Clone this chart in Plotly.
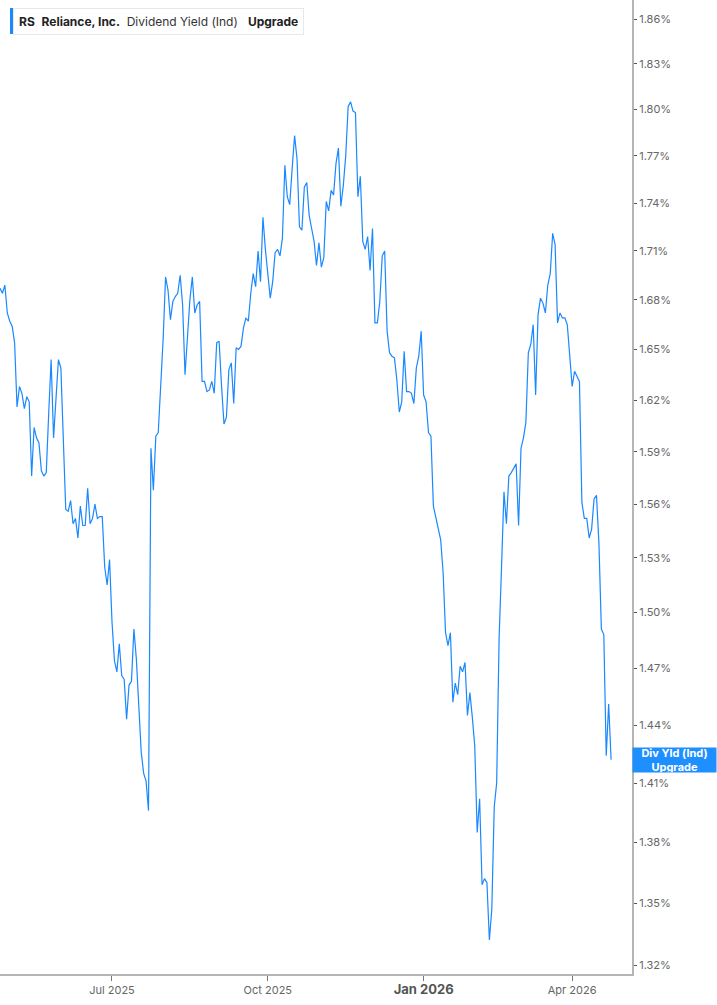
import numpy as np
import pandas as pd
import plotly.graph_objects as go

# NYSE holidays in the window
holidays = ["2025-05-26", "2025-06-19", "2025-07-04", "2025-09-01", "2025-11-27",
            "2025-12-25", "2026-01-01", "2026-01-19", "2026-02-16", "2026-04-03"]
start_date = "2025-04-24"
end_date = "2026-04-24"

# dividend yield (%) per trading day
div_yield = [
    1.687, 1.684, 1.689, 1.672, 1.667, 1.664, 1.654, 1.616, 1.628, 1.624,
    1.615, 1.622, 1.619, 1.576, 1.604, 1.598, 1.595, 1.579, 1.576, 1.578,
    1.612, 1.644, 1.598, 1.621, 1.644, 1.639, 1.591, 1.557, 1.556, 1.562,
    1.549, 1.552, 1.541, 1.559, 1.548, 1.548, 1.569, 1.549, 1.552, 1.560,
    1.552, 1.553, 1.553, 1.525, 1.515, 1.529, 1.495, 1.474, 1.468, 1.483,
    1.466, 1.464, 1.443, 1.461, 1.463, 1.491, 1.475, 1.453, 1.426, 1.415,
    1.411, 1.396, 1.592, 1.568, 1.599, 1.601, 1.628, 1.656, 1.694, 1.686,
    1.668, 1.679, 1.682, 1.684, 1.695, 1.677, 1.635, 1.656, 1.680, 1.694,
    1.672, 1.677, 1.679, 1.631, 1.631, 1.625, 1.626, 1.631, 1.624, 1.654,
    1.655, 1.628, 1.606, 1.610, 1.638, 1.642, 1.618, 1.651, 1.650, 1.652,
    1.663, 1.669, 1.667, 1.684, 1.696, 1.688, 1.710, 1.691, 1.731, 1.711,
    1.694, 1.681, 1.691, 1.709, 1.711, 1.707, 1.718, 1.764, 1.744, 1.739,
    1.762, 1.783, 1.768, 1.725, 1.723, 1.750, 1.753, 1.732, 1.724, 1.716,
    1.701, 1.715, 1.700, 1.706, 1.741, 1.735, 1.748, 1.745, 1.765, 1.775,
    1.738, 1.751, 1.770, 1.802, 1.805, 1.799, 1.798, 1.744, 1.757, 1.716,
    1.711, 1.719, 1.698, 1.724, 1.666, 1.666, 1.679, 1.707, 1.710, 1.661,
    1.648, 1.646, 1.645, 1.632, 1.613, 1.619, 1.649, 1.625, 1.625, 1.624,
    1.618, 1.639, 1.646, 1.661, 1.623, 1.619, 1.601, 1.599, 1.559, 1.553,
    1.547, 1.540, 1.522, 1.489, 1.482, 1.489, 1.452, 1.462, 1.456, 1.471,
    1.468, 1.473, 1.445, 1.457, 1.444, 1.429, 1.385, 1.402, 1.359, 1.362,
    1.360, 1.332, 1.347, 1.398, 1.410, 1.486, 1.525, 1.567, 1.549, 1.576,
    1.578, 1.581, 1.583, 1.548, 1.592, 1.598, 1.607, 1.648, 1.653, 1.665,
    1.623, 1.671, 1.681, 1.678, 1.672, 1.689, 1.696, 1.721, 1.714, 1.666,
    1.672, 1.669, 1.669, 1.665, 1.648, 1.628, 1.637, 1.634, 1.631, 1.561,
    1.552, 1.552, 1.541, 1.546, 1.563, 1.565, 1.538, 1.491, 1.488, 1.424,
    1.451, 1.422,
]

y_ticks = [1.32, 1.35, 1.38, 1.41, 1.44, 1.47, 1.50, 1.53, 1.56, 1.59,
           1.62, 1.65, 1.68, 1.71, 1.74, 1.77, 1.80, 1.83, 1.86]
x_ticks = ["2025-07-01", "2025-10-01", "2026-01-02", "2026-04-01"]
x_labels = ["Jul 2025", "Oct 2025",
            "<b><span style='font-size:13px;color:#555'>Jan 2026</span></b>", "Apr 2026"]

dates = pd.bdate_range(start_date, end_date, freq="C", holidays=holidays)
df = pd.DataFrame({"date": dates, "yield": div_yield})

blue = "#1a88ff"

fig = go.Figure()
fig.add_trace(go.Scatter(x=df["date"], y=df["yield"], mode="lines",
                         line=dict(color=blue, width=1.2), hoverinfo="skip"))

fig.update_layout(
    width=717, height=1005,
    margin=dict(l=0, r=85, t=0, b=31),
    paper_bgcolor="white", plot_bgcolor="white",
    showlegend=False,
    font=dict(family="Inter, Roboto, sans-serif", size=11, color="#666"),
)
fig.update_xaxes(
    range=["2025-04-24", "2026-05-06 14:00"],
    rangebreaks=[dict(bounds=["sat", "mon"]), dict(values=holidays)],
    tickvals=x_ticks, ticktext=x_labels,
    showgrid=False, zeroline=False,
    showline=True, linecolor="#b5b5b5", linewidth=2,
    ticks="outside", ticklen=5, tickcolor="#777", tickwidth=1,
    tickfont=dict(size=11, color="#666"),
)
fig.update_yaxes(
    type="log", side="right",
    range=[np.log10(1.3157), np.log10(1.8729)],
    tickvals=y_ticks, ticktext=[f"{v:.2f}%" for v in y_ticks],
    showgrid=False, zeroline=False,
    showline=True, linecolor="#b5b5b5", linewidth=2,
    ticks="outside", ticklen=3, tickcolor="#555", tickwidth=1,
    tickfont=dict(size=11, color="#666"),
)

# header box
fig.add_annotation(
    xref="paper", yref="paper", x=13 / 632, y=1 - 8 / 974,
    xanchor="left", yanchor="top", showarrow=False,
    text="<b>RS</b>  <b>Reliance, Inc.</b>  <span style='color:#333'>Dividend Yield (Ind)</span>"
         "   <b>Upgrade</b>",
    font=dict(size=12, color="#222"),
    bgcolor="white", bordercolor="#e8e8e8", borderwidth=1, borderpad=5,
)
fig.add_shape(type="rect", xref="paper", yref="paper",
              x0=10 / 632, x1=13 / 632, y0=1 - 34 / 974, y1=1 - 8 / 974,
              fillcolor=blue, line=dict(width=0))

# last value tag
fig.add_annotation(
    xref="paper", yref="y", x=1, y=np.log10(div_yield[-1]),
    xanchor="left", yanchor="middle", showarrow=False,
    text="<b>Div Yld (Ind)</b><br><b>Upgrade</b>",
    font=dict(size=11, color="white"),
    bgcolor="#1e8fff", width=83, height=24, borderpad=0,
)

# the page body has a default margin; drop it so the figure sits at the corner
fig.write_html("out.html", config={"displayModeBar": False},
               post_script="document.body.style.margin='0';")
